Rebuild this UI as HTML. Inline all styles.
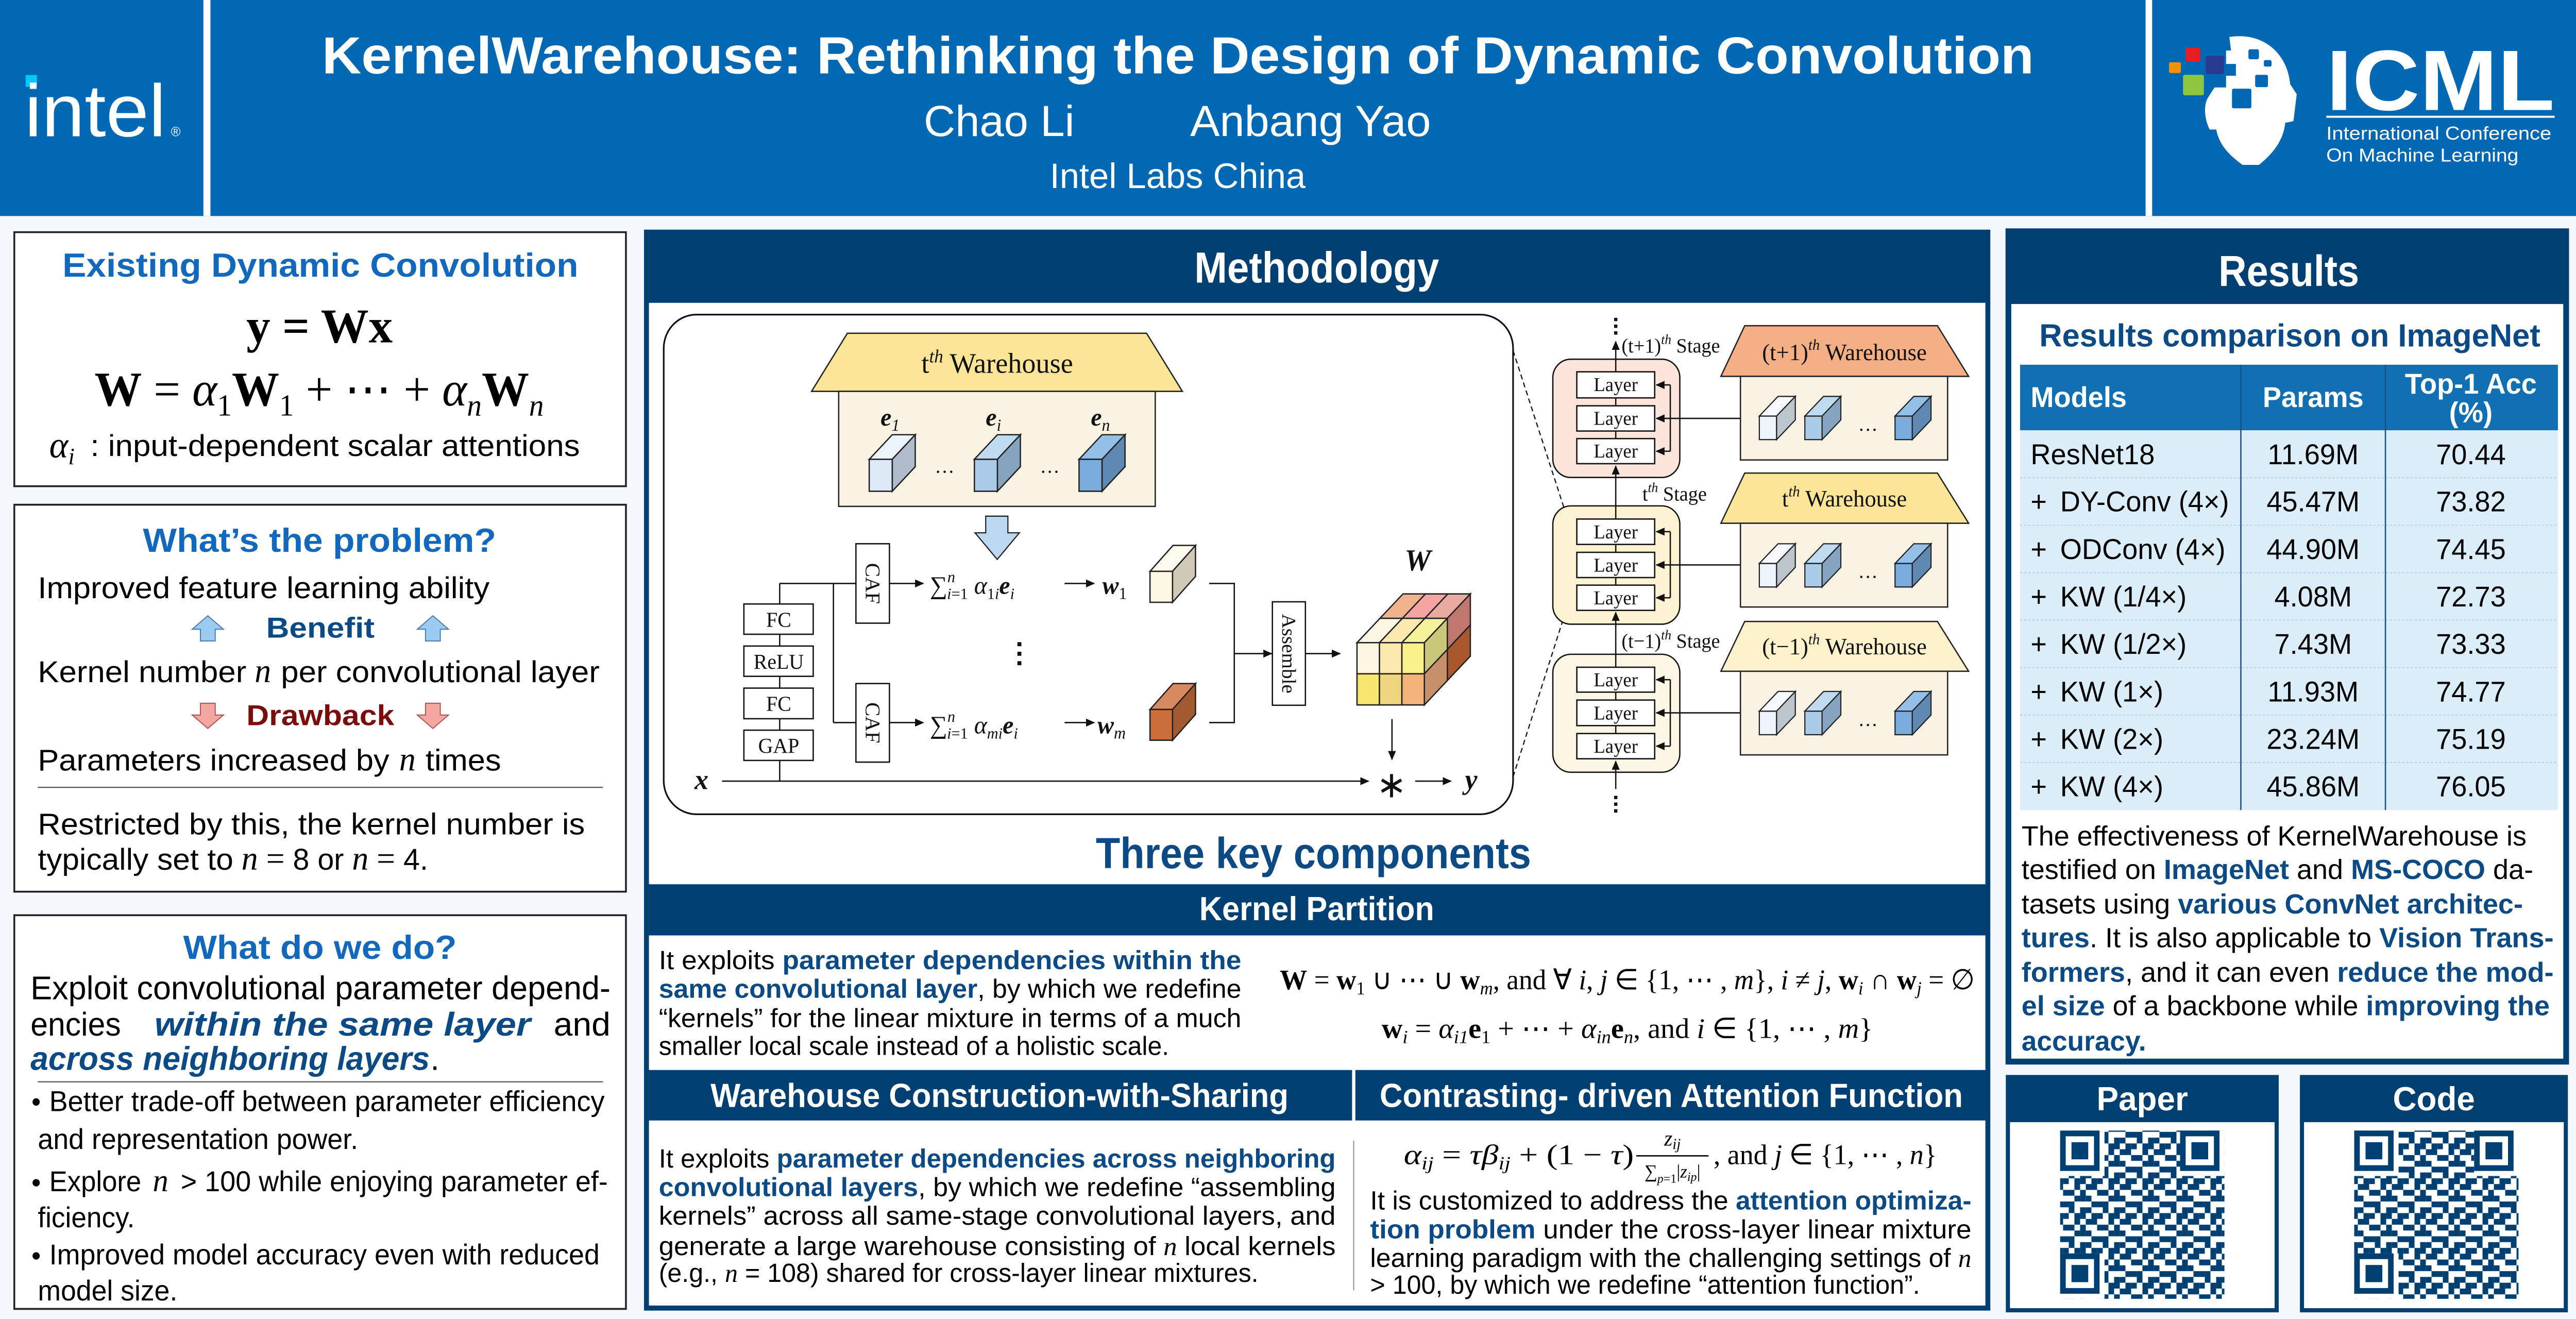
<!DOCTYPE html>
<html><head><meta charset="utf-8">
<style>
html,body{margin:0;padding:0;background:#f4f8fc;overflow:hidden;width:100%;height:100%;}
svg{display:block;width:100vw;height:100vh}
.s{font-family:"Liberation Sans",Arial,sans-serif}
.r{font-family:"Liberation Serif","Times New Roman",serif}
</style></head>
<body>
<svg viewBox="0 0 1568 784" preserveAspectRatio="none" xmlns="http://www.w3.org/2000/svg">
<defs>
<marker id="ah" markerWidth="6" markerHeight="6" refX="5" refY="3" orient="auto" markerUnits="userSpaceOnUse"><path d="M0,0.6 L5.5,3 L0,5.4 Z" fill="#111"/></marker>
<pattern id="qrp" patternUnits="userSpaceOnUse" width="20.7" height="20.7">
<rect x="0" y="0" width="3.45" height="3.45" fill="#003f72"/><rect x="6.9" y="0" width="6.9" height="3.45" fill="#003f72"/><rect x="3.45" y="3.45" width="3.45" height="6.9" fill="#003f72"/><rect x="13.8" y="3.45" width="6.9" height="3.45" fill="#003f72"/><rect x="0" y="6.9" width="3.45" height="3.45" fill="#003f72"/><rect x="6.9" y="6.9" width="3.45" height="3.45" fill="#003f72"/><rect x="10.35" y="10.35" width="6.9" height="3.45" fill="#003f72"/><rect x="17.25" y="10.35" width="3.45" height="6.9" fill="#003f72"/><rect x="3.45" y="13.8" width="3.45" height="6.9" fill="#003f72"/><rect x="6.9" y="13.8" width="3.45" height="3.45" fill="#003f72"/><rect x="13.8" y="17.25" width="3.45" height="3.45" fill="#003f72"/><rect x="0" y="17.25" width="3.45" height="3.45" fill="#003f72"/><rect x="10.35" y="17.25" width="3.45" height="3.45" fill="#003f72"/>
</pattern>
<g id="fp"><rect x="0" y="0" width="27" height="27" fill="#fff"/><rect x="0" y="0" width="24" height="24" fill="#003f72"/><rect x="3.4" y="3.4" width="17.2" height="17.2" fill="#fff"/><rect x="6.9" y="6.9" width="10.2" height="10.2" fill="#003f72"/></g>
<g id="sc1" stroke="#222" stroke-width="0.7"><rect x="0" y="0" width="10.5" height="14" fill="#eef4fb"/><polygon points="0,0 11.4,-11.7 21.9,-11.7 10.5,0" fill="#f6f9fd"/><polygon points="10.5,0 21.9,-11.7 21.9,2.3 10.5,14" fill="#bcc4cc"/></g>
<g id="sc2" stroke="#222" stroke-width="0.7"><rect x="0" y="0" width="10.5" height="14" fill="#a9cbe8"/><polygon points="0,0 11.4,-11.7 21.9,-11.7 10.5,0" fill="#c0daf0"/><polygon points="10.5,0 21.9,-11.7 21.9,2.3 10.5,14" fill="#86a4c0"/></g>
<g id="sc3" stroke="#222" stroke-width="0.7"><rect x="0" y="0" width="10.5" height="14" fill="#7aadde"/><polygon points="0,0 11.4,-11.7 21.9,-11.7 10.5,0" fill="#94bfe6"/><polygon points="10.5,0 21.9,-11.7 21.9,2.3 10.5,14" fill="#5f88b3"/></g>
</defs>

<rect x="0" y="0" width="1568" height="784" fill="#f4f8fc"/>

<!-- HEADER -->
<rect x="0" y="0" width="1568" height="128.4" fill="#0368b4"/>
<rect x="123.8" y="0" width="4.3" height="128.4" fill="#fff"/>
<rect x="1306" y="0" width="4" height="128.4" fill="#fff"/>
<rect x="15.6" y="44.6" width="6.9" height="7" fill="#00c7fd"/>
<text class="s" x="15" y="81" font-size="44" fill="#fff" textLength="86" lengthAdjust="spacingAndGlyphs">intel</text>
<text class="s" x="104" y="81" font-size="8" fill="#fff">®</text>
<text class="s" x="196" y="43.7" font-size="31" font-weight="bold" fill="#fff" textLength="1042" lengthAdjust="spacingAndGlyphs">KernelWarehouse: Rethinking the Design of Dynamic Convolution</text>
<text class="s" x="562.3" y="80.8" font-size="26" fill="#fff" textLength="91.7" lengthAdjust="spacingAndGlyphs">Chao Li</text>
<text class="s" x="724.4" y="80.8" font-size="26" fill="#fff" textLength="146.6" lengthAdjust="spacingAndGlyphs">Anbang Yao</text>
<text class="s" x="639" y="111.8" font-size="21" fill="#fff" textLength="155.7" lengthAdjust="spacingAndGlyphs">Intel Labs China</text>
<rect x="1320.3" y="37" width="7.2" height="6.4" fill="#f39200" rx="1"/>
<rect x="1330.4" y="28.3" width="8.9" height="8.4" fill="#e31e24" rx="1"/>
<rect x="1342.6" y="33.2" width="11.1" height="10.8" fill="#2a3a91" rx="1"/>
<rect x="1328.8" y="44.5" width="12.7" height="12.1" fill="#8cc63f" rx="1"/>
<path d="M1357,22 C1376,19 1392,30 1394,50 L1398,56 L1396,72 L1391,73 C1390,83 1384,91 1375,98 L1365,98 C1358,93 1351,87 1349,77 L1345,77 C1342,71 1341,63 1344,58 L1348,52 L1355,52 L1355,45 L1361,45 L1361,38 L1355,38 L1355,30 L1358,30 Z" fill="#fff"/>
<rect x="1368.6" y="29.3" width="6.4" height="5.9" fill="#0368b4" rx="1"/>
<rect x="1378" y="35.7" width="4.7" height="3.9" fill="#0368b4" rx="1"/>
<rect x="1372.7" y="44.5" width="7.8" height="7.3" fill="#0368b4" rx="1"/>
<rect x="1358.6" y="52.7" width="11.8" height="11.7" fill="#0368b4" rx="1"/>
<text class="s" x="1416" y="65.4" font-size="51" font-weight="bold" fill="#fff" textLength="139" lengthAdjust="spacingAndGlyphs">ICML</text>
<rect x="1416" y="68.8" width="139" height="1.2" fill="#fff"/>
<text class="s" x="1416" y="83" font-size="11" fill="#fff" textLength="137" lengthAdjust="spacingAndGlyphs">International Conference</text>
<text class="s" x="1416" y="96" font-size="11" fill="#fff" textLength="117" lengthAdjust="spacingAndGlyphs">On Machine Learning</text>

<!-- LEFT COLUMN -->
<rect x="8.7" y="138" width="372.3" height="151" fill="#fff" stroke="#222" stroke-width="1.1"/>
<text class="s" x="38" y="164.5" font-size="20" font-weight="bold" fill="#1268bd" textLength="314" lengthAdjust="spacingAndGlyphs">Existing Dynamic Convolution</text>
<text class="r" x="150" y="203.5" font-size="29" font-weight="bold" fill="#000" textLength="89" lengthAdjust="spacingAndGlyphs">y = Wx</text>
<text class="r" x="57.5" y="241" font-size="29" fill="#000" textLength="273.5" lengthAdjust="spacingAndGlyphs"><tspan font-weight="bold">W</tspan> = <tspan font-style="italic">α</tspan><tspan font-size="18" dy="6">1</tspan><tspan dy="-6" font-weight="bold">W</tspan><tspan font-size="18" dy="6">1</tspan><tspan dy="-6"> + ⋯ + </tspan><tspan font-style="italic">α</tspan><tspan font-size="18" dy="6" font-style="italic">n</tspan><tspan dy="-6" font-weight="bold">W</tspan><tspan font-size="18" dy="6" font-style="italic">n</tspan></text>
<text class="r" x="30" y="272" font-size="22" font-style="italic" fill="#000">α<tspan font-size="14" dy="4">i</tspan></text>
<text class="s" x="55" y="271" font-size="18" fill="#000" textLength="298" lengthAdjust="spacingAndGlyphs">: input-dependent scalar attentions</text>

<rect x="8.7" y="300" width="372.3" height="230" fill="#fff" stroke="#222" stroke-width="1.1"/>
<text class="s" x="87" y="328" font-size="20" font-weight="bold" fill="#1268bd" textLength="215" lengthAdjust="spacingAndGlyphs">What’s the problem?</text>
<text class="s" x="23" y="355.5" font-size="18" fill="#000" textLength="275" lengthAdjust="spacingAndGlyphs">Improved feature learning ability</text>
<polygon points="126.5,366 136,374 131,374 131,381 122,381 122,374 117,374" fill="#9ccbf2" stroke="#4a79a8" stroke-width="0.6"/>
<polygon points="263.5,366 273,374 268,374 268,381 259,381 259,374 254,374" fill="#9ccbf2" stroke="#4a79a8" stroke-width="0.6"/>
<text class="s" x="162" y="379" font-size="17" font-weight="bold" fill="#0b4a85" textLength="66" lengthAdjust="spacingAndGlyphs">Benefit</text>
<text class="s" x="23" y="405.5" font-size="18" fill="#000" textLength="127" lengthAdjust="spacingAndGlyphs">Kernel number</text>
<text class="r" x="155" y="405.5" font-size="20" font-style="italic" fill="#000">n</text>
<text class="s" x="171" y="405.5" font-size="18" fill="#000" textLength="194" lengthAdjust="spacingAndGlyphs">per convolutional layer</text>
<polygon points="126.5,433 136,425 131,425 131,418 122,418 122,425 117,425" fill="#f4a6a0" stroke="#b05050" stroke-width="0.6"/>
<polygon points="263.5,433 273,425 268,425 268,418 259,418 259,425 254,425" fill="#f4a6a0" stroke="#b05050" stroke-width="0.6"/>
<text class="s" x="150" y="431" font-size="17" font-weight="bold" fill="#7a0c0c" textLength="90" lengthAdjust="spacingAndGlyphs">Drawback</text>
<text class="s" x="23" y="458" font-size="18" fill="#000" textLength="214" lengthAdjust="spacingAndGlyphs">Parameters increased by</text>
<text class="r" x="243" y="458" font-size="20" font-style="italic" fill="#000">n</text>
<text class="s" x="259" y="458" font-size="18" fill="#000" textLength="46" lengthAdjust="spacingAndGlyphs">times</text>
<line x1="23" y1="468" x2="367" y2="468" stroke="#555" stroke-width="0.7"/>
<text class="s" x="23" y="496" font-size="18" fill="#000" textLength="333" lengthAdjust="spacingAndGlyphs">Restricted by this, the kernel number is</text>
<text class="s" x="23" y="517" font-size="18" fill="#000" textLength="119" lengthAdjust="spacingAndGlyphs">typically set to</text>
<text class="r" x="147" y="517" font-size="20" fill="#000"><tspan font-style="italic">n</tspan> = <tspan class="s" font-size="18">8 or </tspan><tspan font-style="italic">n</tspan> = <tspan class="s" font-size="18">4.</tspan></text>

<rect x="8.7" y="544" width="372.3" height="234" fill="#fff" stroke="#222" stroke-width="1.1"/>
<text class="s" x="111.5" y="570" font-size="20" font-weight="bold" fill="#1268bd" textLength="166.5" lengthAdjust="spacingAndGlyphs">What do we do?</text>
<text class="s" x="18.6" y="594" font-size="19.5" fill="#000" textLength="353" lengthAdjust="spacingAndGlyphs">Exploit convolutional parameter depend-</text>
<text class="s" x="18.6" y="615.5" font-size="19.5" fill="#000" textLength="55" lengthAdjust="spacingAndGlyphs">encies</text>
<text class="s" x="94" y="615.5" font-size="19.5" font-weight="bold" font-style="italic" fill="#0b4a85" textLength="229" lengthAdjust="spacingAndGlyphs">within  the  same  layer</text>
<text class="s" x="337" y="615.5" font-size="19.5" fill="#000" textLength="34.6" lengthAdjust="spacingAndGlyphs">and</text>
<text class="s" x="18.6" y="636" font-size="19.5" fill="#0b4a85" font-weight="bold" font-style="italic" textLength="243" lengthAdjust="spacingAndGlyphs">across neighboring layers</text>
<text class="s" x="262" y="636" font-size="19.5" fill="#000">.</text>
<line x1="23" y1="643" x2="367" y2="643" stroke="#555" stroke-width="0.7"/>
<g class="s" font-size="17" fill="#000">
<circle cx="22" cy="655" r="2.2"/>
<text x="30" y="660.5" textLength="338" lengthAdjust="spacingAndGlyphs">Better trade-off between parameter efficiency</text>
<text x="23" y="683" textLength="195" lengthAdjust="spacingAndGlyphs">and representation power.</text>
<circle cx="22" cy="703" r="2.2"/>
<text x="30" y="708" textLength="56" lengthAdjust="spacingAndGlyphs">Explore</text>
<text class="r" x="93" y="708" font-size="19" font-style="italic">n</text>
<text x="110" y="708" textLength="260" lengthAdjust="spacingAndGlyphs">&gt; 100 while enjoying parameter ef-</text>
<text x="23" y="729.5" textLength="59" lengthAdjust="spacingAndGlyphs">ficiency.</text>
<circle cx="22" cy="746.5" r="2.2"/>
<text x="30" y="751.5" textLength="335" lengthAdjust="spacingAndGlyphs">Improved model accuracy even with reduced</text>
<text x="23" y="773" textLength="85" lengthAdjust="spacingAndGlyphs">model size.</text>
</g>

<!-- MIDDLE COLUMN -->
<rect x="393.5" y="138" width="816.5" height="639.5" fill="#fff" stroke="#003f72" stroke-width="3"/>
<rect x="393.5" y="138" width="816.5" height="42" fill="#003f72"/>
<text class="s" x="727" y="168" font-size="26" font-weight="bold" fill="#fff" textLength="149" lengthAdjust="spacingAndGlyphs">Methodology</text>

<rect x="404" y="187" width="517" height="297" rx="20" fill="#fff" stroke="#111" stroke-width="1"/>
<polygon points="515.8,198.1 697.9,198.1 719.7,232.6 494,232.6" fill="#fde598" stroke="#222" stroke-width="0.8"/>
<rect x="510.5" y="232.6" width="192.7" height="68.4" fill="#faf3e3" stroke="#222" stroke-width="0.8"/>
<text class="r" x="607" y="221.5" font-size="17" text-anchor="middle" fill="#111">t<tspan font-size="11" font-style="italic" dy="-6">th</tspan><tspan dy="6">  Warehouse</tspan></text>
<g class="r" font-size="15" font-weight="bold" font-style="italic" fill="#111">
<text x="536" y="253">e<tspan font-size="10" font-weight="normal" dy="3">1</tspan></text>
<text x="600" y="253">e<tspan font-size="10" font-weight="normal" dy="3">i</tspan></text>
<text x="664" y="253">e<tspan font-size="10" font-weight="normal" dy="3">n</tspan></text>
</g>
<g stroke="#222" stroke-width="0.8">
<polygon points="529.1,273 543.1,258.4 557.1,258.4 543.1,273" fill="#eef4fb"/><polygon points="543.1,273 557.1,258.4 557.1,277.4 543.1,292" fill="#b0bccb"/><rect x="529.1" y="273" width="14" height="19" fill="#dde9f6"/>
<polygon points="593.1,273 607.1,258.4 621.1,258.4 607.1,273" fill="#c0daf0"/><polygon points="607.1,273 621.1,258.4 621.1,277.4 607.1,292" fill="#86a4c0"/><rect x="593.1" y="273" width="14" height="19" fill="#a9cbe8"/>
<polygon points="656.8,273 670.8,258.4 684.8,258.4 670.8,273" fill="#94bfe6"/><polygon points="670.8,273 684.8,258.4 684.8,277.4 670.8,292" fill="#5f88b3"/><rect x="656.8" y="273" width="14" height="19" fill="#7aadde"/>
</g>
<text class="r" x="569" y="281" font-size="12" fill="#111">…</text>
<text class="r" x="633" y="281" font-size="12" fill="#111">…</text>
<polygon points="600,306.8 613.5,306.8 613.5,316.7 620.5,316.7 607,332.5 593.5,316.7 600,316.7" fill="#bcd7f0" stroke="#222" stroke-width="0.7"/>

<g stroke="#111" stroke-width="0.8" fill="none">
<line x1="474.6" y1="464.3" x2="474.6" y2="346.8"/>
<line x1="474.6" y1="346.8" x2="521" y2="346.8"/>
<line x1="507.3" y1="346.8" x2="507.3" y2="429.5"/>
<line x1="507.3" y1="429.5" x2="521" y2="429.5"/>
<line x1="439.5" y1="464.3" x2="833" y2="464.3" marker-end="url(#ah)"/>
<line x1="541.4" y1="346.8" x2="562" y2="346.8" marker-end="url(#ah)"/>
<line x1="541.4" y1="429.5" x2="562" y2="429.5" marker-end="url(#ah)"/>
<line x1="648" y1="346.8" x2="666" y2="346.8" marker-end="url(#ah)"/>
<line x1="648" y1="429.5" x2="666" y2="429.5" marker-end="url(#ah)"/>
<polyline points="736,346.8 751.3,346.8 751.3,429.5 736,429.5"/>
<line x1="751.3" y1="388.5" x2="774" y2="388.5" marker-end="url(#ah)"/>
<line x1="794.6" y1="388.5" x2="815.7" y2="388.5" marker-end="url(#ah)"/>
<line x1="847.3" y1="427.4" x2="847.3" y2="451.4" marker-end="url(#ah)"/>
<line x1="861.4" y1="464.3" x2="883.2" y2="464.3" marker-end="url(#ah)"/>
</g>
<g stroke="#111" stroke-width="0.8" fill="#fff">
<rect x="452.8" y="359" width="42.2" height="18"/>
<rect x="452.8" y="384" width="42.2" height="18"/>
<rect x="452.8" y="409" width="42.2" height="18.2"/>
<rect x="452.8" y="434" width="42.2" height="18"/>
<rect x="521" y="323.2" width="20.4" height="47.2"/>
<rect x="521" y="406.3" width="20.4" height="46.7"/>
<rect x="774.5" y="357.7" width="20.1" height="61.5"/>
</g>
<g class="r" font-size="12.5" fill="#111" text-anchor="middle">
<text x="474" y="372.5">FC</text>
<text x="474" y="397.5">ReLU</text>
<text x="474" y="422.5">FC</text>
<text x="474" y="447.5">GAP</text>
<text transform="translate(527,346.8) rotate(90)" y="0">CAF</text>
<text transform="translate(527,429.6) rotate(90)" y="0">CAF</text>
<text transform="translate(780.5,388.5) rotate(90)" y="0" font-size="12">Assemble</text>
</g>
<text class="r" x="566" y="353" font-size="15" fill="#111">∑<tspan font-size="9.5" font-style="italic" dy="-7">n</tspan><tspan font-size="9.5" dx="-5" dy="10"><tspan font-style="italic">i</tspan>=1</tspan><tspan font-style="italic" dy="-3"> α</tspan><tspan font-size="9.5" dy="3">1<tspan font-style="italic">i</tspan></tspan><tspan font-weight="bold" font-style="italic" dy="-3">e</tspan><tspan font-size="9.5" font-style="italic" dy="3">i</tspan></text>
<text class="r" x="671" y="353" font-size="15" font-weight="bold" font-style="italic" fill="#111">w<tspan font-size="10" font-weight="normal" font-style="normal" dy="3">1</tspan></text>
<text class="r" x="566" y="436" font-size="15" fill="#111">∑<tspan font-size="9.5" font-style="italic" dy="-7">n</tspan><tspan font-size="9.5" dx="-5" dy="10"><tspan font-style="italic">i</tspan>=1</tspan><tspan font-style="italic" dy="-3"> α</tspan><tspan font-size="9.5" font-style="italic" dy="3">mi</tspan><tspan font-weight="bold" font-style="italic" dy="-3">e</tspan><tspan font-size="9.5" font-style="italic" dy="3">i</tspan></text>
<text class="r" x="668" y="436" font-size="15" font-weight="bold" font-style="italic" fill="#111">w<tspan font-size="10" font-weight="normal" dy="3">m</tspan></text>
<g fill="#111"><rect x="619.3" y="381.7" width="2.4" height="2.4"/><rect x="619.3" y="387.4" width="2.4" height="2.4"/><rect x="619.3" y="393" width="2.4" height="2.4"/></g>
<g stroke="#222" stroke-width="0.8">
<polygon points="700,339.6 714,324.2 727.7,324.2 713.7,339.6" fill="#fefbef"/><polygon points="713.7,339.6 727.7,324.2 727.7,342.6 713.7,358" fill="#d0c9b8"/><rect x="700" y="339.6" width="13.7" height="18.4" fill="#fdf7e4"/>
<polygon points="700,421.7 714,406.3 727.7,406.3 713.7,421.7" fill="#d9895f"/><polygon points="713.7,421.7 727.7,406.3 727.7,424.6 713.7,440" fill="#a35a30"/><rect x="700" y="421.7" width="13.7" height="18.3" fill="#cc6e3c"/>
</g>
<g stroke="#222" stroke-width="0.8">
<polygon points="826,382 839.67,382 853.67,367.5 840,367.5" fill="#fdf6e3"/>
<polygon points="839.67,382 853.33,382 867.33,367.5 853.67,367.5" fill="#fde9b0"/>
<polygon points="853.33,382 867,382 881,367.5 867.33,367.5" fill="#f6f29a"/>
<polygon points="840,367.5 853.67,367.5 867.67,353 854,353" fill="#f2b38c"/>
<polygon points="853.67,367.5 867.33,367.5 881.33,353 867.67,353" fill="#f5a3a3"/>
<polygon points="867.33,367.5 881,367.5 895,353 881.33,353" fill="#e9aaa0"/>
<polygon points="867,382 881,367.5 881,386 867,400.5" fill="#c9c87a"/>
<polygon points="867,400.5 881,386 881,404.5 867,419" fill="#c8906a"/>
<polygon points="881,367.5 895,353 895,371.5 881,386" fill="#c0786e"/>
<polygon points="881,386 895,371.5 895,390 881,404.5" fill="#a9582e"/>
<rect x="826" y="382" width="13.67" height="18.5" fill="#fdf6e3"/>
<rect x="839.67" y="382" width="13.67" height="18.5" fill="#fde9b0"/>
<rect x="853.33" y="382" width="13.67" height="18.5" fill="#f9f28a"/>
<rect x="826" y="400.5" width="13.67" height="18.5" fill="#f7e46c"/>
<rect x="839.67" y="400.5" width="13.67" height="18.5" fill="#eed47c"/>
<rect x="853.33" y="400.5" width="13.67" height="18.5" fill="#f3b37a"/>
</g>
<text class="r" x="863" y="339" font-size="18" font-weight="bold" font-style="italic" fill="#111" text-anchor="middle">W</text>
<text class="r" x="427" y="469" font-size="17" font-style="italic" font-weight="bold" fill="#111" text-anchor="middle">x</text>
<text class="r" x="847" y="474" font-size="22" fill="#111" text-anchor="middle">∗</text>
<text class="r" x="895.5" y="469" font-size="17" font-style="italic" font-weight="bold" fill="#111" text-anchor="middle">y</text>
<g stroke="#111" stroke-width="0.7" stroke-dasharray="3,2" fill="none">
<line x1="921" y1="208.4" x2="959.5" y2="324.5"/>
<line x1="921" y1="461.7" x2="959.5" y2="343.5"/>
</g>

<rect x="945.2" y="213.5" width="77.3" height="70.3" rx="11" fill="#fbe5da" stroke="#111" stroke-width="0.8"/>
<rect x="945.2" y="300.7" width="77.3" height="70.3" rx="11" fill="#fdf2d2" stroke="#111" stroke-width="0.8"/>
<rect x="945.2" y="388.9" width="77.3" height="70.1" rx="11" fill="#fdf6e4" stroke="#111" stroke-width="0.8"/>
<g stroke="#111" stroke-width="0.8" fill="none">
<line x1="983.5" y1="221" x2="983.5" y2="203" marker-end="url(#ah)"/>
<line x1="983.5" y1="308.5" x2="983.5" y2="277" marker-end="url(#ah)"/>
<line x1="983.5" y1="396.6" x2="983.5" y2="364" marker-end="url(#ah)"/>
<line x1="983.5" y1="469" x2="983.5" y2="452.5" marker-end="url(#ah)"/>
<line x1="983.5" y1="236" x2="983.5" y2="261"/><line x1="983.5" y1="323" x2="983.5" y2="348"/><line x1="983.5" y1="411" x2="983.5" y2="436"/>
<polyline points="1016.7,228.8 1016.7,268.2"/><polyline points="1016.7,316 1016.7,355.3"/><polyline points="1016.7,404 1016.7,443.5"/>
<line x1="1016.7" y1="228.8" x2="1008.2" y2="228.8" marker-end="url(#ah)"/>
<line x1="1016.7" y1="268.2" x2="1008.2" y2="268.2" marker-end="url(#ah)"/>
<line x1="1059.4" y1="248.7" x2="1008.2" y2="248.7" marker-end="url(#ah)"/>
<line x1="1016.7" y1="316" x2="1008.2" y2="316" marker-end="url(#ah)"/>
<line x1="1016.7" y1="355.3" x2="1008.2" y2="355.3" marker-end="url(#ah)"/>
<line x1="1059.4" y1="335.8" x2="1008.2" y2="335.8" marker-end="url(#ah)"/>
<line x1="1016.7" y1="404" x2="1008.2" y2="404" marker-end="url(#ah)"/>
<line x1="1016.7" y1="443.5" x2="1008.2" y2="443.5" marker-end="url(#ah)"/>
<line x1="1059.4" y1="423.7" x2="1008.2" y2="423.7" marker-end="url(#ah)"/>
</g>
<g fill="#111"><rect x="982.5" y="188.9" width="2" height="2"/><rect x="982.5" y="192.9" width="2" height="2"/><rect x="982.5" y="196.9" width="2" height="2"/>
<rect x="982.5" y="473" width="2" height="2"/><rect x="982.5" y="477" width="2" height="2"/><rect x="982.5" y="481" width="2" height="2"/></g>
<g stroke="#111" stroke-width="0.8" fill="#fff">
<rect x="959.8" y="221" width="47.4" height="15.5"/><rect x="959.8" y="241.2" width="47.4" height="15"/><rect x="959.8" y="260.7" width="47.4" height="14.9"/>
<rect x="959.8" y="308.5" width="47.4" height="15.1"/><rect x="959.8" y="328.3" width="47.4" height="15"/><rect x="959.8" y="347.8" width="47.4" height="15"/>
<rect x="959.8" y="396.6" width="47.4" height="14.8"/><rect x="959.8" y="416.1" width="47.4" height="15.2"/><rect x="959.8" y="436" width="47.4" height="15"/>
</g>
<g class="r" font-size="11.5" fill="#111" text-anchor="middle">
<text x="983.5" y="232.5">Layer</text><text x="983.5" y="252.5">Layer</text><text x="983.5" y="272">Layer</text>
<text x="983.5" y="320">Layer</text><text x="983.5" y="339.8">Layer</text><text x="983.5" y="359.3">Layer</text>
<text x="983.5" y="408">Layer</text><text x="983.5" y="427.7">Layer</text><text x="983.5" y="447.5">Layer</text>
</g>
<g class="r" font-size="12" fill="#111">
<text x="987" y="209.5">(t+1)<tspan font-size="8" font-style="italic" dy="-5">th</tspan><tspan dy="5"> Stage</tspan></text>
<text x="999.7" y="297.5">t<tspan font-size="8" font-style="italic" dy="-5">th</tspan><tspan dy="5">  Stage</tspan></text>
<text x="987" y="385">(t−1)<tspan font-size="8" font-style="italic" dy="-5">th</tspan><tspan dy="5"> Stage</tspan></text>
</g>
<g stroke="#222" stroke-width="0.8">
<polygon points="1062,193.6 1179.3,193.6 1198.3,223.7 1047.5,223.7" fill="#f4b084"/>
<rect x="1059.4" y="223.7" width="126.1" height="49.7" fill="#faf3e3"/>
<polygon points="1062,281.2 1179.3,281.2 1198.3,311 1047.5,311" fill="#fde598"/>
<rect x="1059.4" y="311" width="126.1" height="49.8" fill="#faf3e3"/>
<polygon points="1062,369.4 1179.3,369.4 1198.3,399 1047.5,399" fill="#fef2cc"/>
<rect x="1059.4" y="399" width="126.1" height="49.7" fill="#faf3e3"/>
</g>
<g class="r" font-size="14" fill="#111" text-anchor="middle">
<text x="1122.7" y="214">(t+1)<tspan font-size="9" font-style="italic" dy="-6">th</tspan><tspan dy="6"> Warehouse</tspan></text>
<text x="1122.7" y="301">t<tspan font-size="9" font-style="italic" dy="-6">th</tspan><tspan dy="6"> Warehouse</tspan></text>
<text x="1122.7" y="389">(t−1)<tspan font-size="9" font-style="italic" dy="-6">th</tspan><tspan dy="6"> Warehouse</tspan></text>
</g>
<use href="#sc1" x="1070.9" y="247.3"/><use href="#sc2" x="1098.6" y="247.3"/><use href="#sc3" x="1153.5" y="247.3"/>
<use href="#sc1" x="1070.9" y="334.9"/><use href="#sc2" x="1098.6" y="334.9"/><use href="#sc3" x="1153.5" y="334.9"/>
<use href="#sc1" x="1070.9" y="422.7"/><use href="#sc2" x="1098.6" y="422.7"/><use href="#sc3" x="1153.5" y="422.7"/>
<g class="r" font-size="12" fill="#111"><text x="1131" y="256">…</text><text x="1131" y="343.5">…</text><text x="1131" y="431.5">…</text></g>

<text class="s" x="667" y="516" font-size="26" font-weight="bold" fill="#0b4a85" textLength="265" lengthAdjust="spacingAndGlyphs">Three key components</text>

<rect x="393.5" y="525.6" width="816.5" height="30.4" fill="#003f72"/>
<text class="s" x="730" y="547" font-size="20" font-weight="bold" fill="#fff" textLength="143" lengthAdjust="spacingAndGlyphs">Kernel Partition</text>
<g class="s" font-size="15.5" fill="#000">
<text x="401" y="576" textLength="354.6" lengthAdjust="spacingAndGlyphs">It exploits <tspan font-weight="bold" fill="#0b4a85">parameter dependencies within the</tspan></text>
<text x="401" y="593" textLength="354.6" lengthAdjust="spacingAndGlyphs"><tspan font-weight="bold" fill="#0b4a85">same convolutional layer</tspan>, by which we redefine</text>
<text x="401" y="610.5" textLength="354.6" lengthAdjust="spacingAndGlyphs">“kernels” for the linear mixture in terms of a much</text>
<text x="401" y="627" textLength="310.6" lengthAdjust="spacingAndGlyphs">smaller local scale instead of a holistic scale.</text>
</g>
<text class="r" x="779" y="588" font-size="17" fill="#000" textLength="423" lengthAdjust="spacingAndGlyphs"><tspan font-weight="bold">W</tspan> = <tspan font-weight="bold">w</tspan><tspan font-size="11" dy="3">1</tspan><tspan dy="-3"> ∪ ⋯ ∪ </tspan><tspan font-weight="bold">w</tspan><tspan font-size="11" font-style="italic" dy="3">m</tspan><tspan dy="-3">,  and ∀ </tspan><tspan font-style="italic">i</tspan>, <tspan font-style="italic">j</tspan> ∈ {1, ⋯ , <tspan font-style="italic">m</tspan>}, <tspan font-style="italic">i</tspan> ≠ <tspan font-style="italic">j</tspan>, <tspan font-weight="bold">w</tspan><tspan font-size="11" font-style="italic" dy="3">i</tspan><tspan dy="-3"> ∩ </tspan><tspan font-weight="bold">w</tspan><tspan font-size="11" font-style="italic" dy="3">j</tspan><tspan dy="-3"> = ∅</tspan></text>
<text class="r" x="841" y="617" font-size="17" fill="#000" textLength="299" lengthAdjust="spacingAndGlyphs"><tspan font-weight="bold">w</tspan><tspan font-size="11" font-style="italic" dy="3">i</tspan><tspan dy="-3"> = </tspan><tspan font-style="italic">α</tspan><tspan font-size="11" font-style="italic" dy="3">i1</tspan><tspan font-weight="bold" dy="-3">e</tspan><tspan font-size="11" dy="3">1</tspan><tspan dy="-3"> + ⋯ + </tspan><tspan font-style="italic">α</tspan><tspan font-size="11" font-style="italic" dy="3">in</tspan><tspan font-weight="bold" dy="-3">e</tspan><tspan font-size="11" font-style="italic" dy="3">n</tspan><tspan dy="-3">,  and </tspan><tspan font-style="italic">i</tspan> ∈ {1, ⋯ , <tspan font-style="italic">m</tspan>}</text>

<rect x="393.5" y="636" width="429.5" height="30" fill="#003f72"/>
<rect x="825" y="636" width="385" height="30" fill="#003f72"/>
<text class="s" x="432.5" y="658" font-size="20" font-weight="bold" fill="#fff" textLength="351.8" lengthAdjust="spacingAndGlyphs">Warehouse Construction-with-Sharing</text>
<text class="s" x="839.8" y="658" font-size="20" font-weight="bold" fill="#fff" textLength="355" lengthAdjust="spacingAndGlyphs">Contrasting- driven Attention Function</text>
<line x1="824" y1="678" x2="824" y2="767" stroke="#888" stroke-width="0.6"/>
<g class="s" font-size="15.5" fill="#000">
<text x="401" y="694" textLength="412" lengthAdjust="spacingAndGlyphs">It exploits <tspan font-weight="bold" fill="#0b4a85">parameter dependencies across neighboring</tspan></text>
<text x="401" y="711" textLength="412" lengthAdjust="spacingAndGlyphs"><tspan font-weight="bold" fill="#0b4a85">convolutional layers</tspan>, by which we redefine “assembling</text>
<text x="401" y="728" textLength="412" lengthAdjust="spacingAndGlyphs">kernels” across all same-stage convolutional layers, and</text>
<text x="401" y="746" textLength="412" lengthAdjust="spacingAndGlyphs">generate a large warehouse consisting of <tspan class="r" font-style="italic">n</tspan> local kernels</text>
<text x="401" y="762" textLength="365" lengthAdjust="spacingAndGlyphs">(e.g., <tspan class="r" font-style="italic">n</tspan> = 108) shared for cross-layer linear mixtures.</text>
</g>
<text class="r" x="854.5" y="692" font-size="17" fill="#000" textLength="140" lengthAdjust="spacingAndGlyphs"><tspan font-style="italic">α</tspan><tspan font-size="11" font-style="italic" dy="3">ij</tspan><tspan dy="-3"> = </tspan><tspan font-style="italic">τβ</tspan><tspan font-size="11" font-style="italic" dy="3">ij</tspan><tspan dy="-3"> + (1 − </tspan><tspan font-style="italic">τ</tspan>)</text>
<text class="r" x="1018" y="681" font-size="13" font-style="italic" fill="#000" text-anchor="middle">z<tspan font-size="9" dy="2">ij</tspan></text>
<line x1="996" y1="687" x2="1040" y2="687" stroke="#000" stroke-width="0.8"/>
<text class="r" x="1018" y="700" font-size="11" fill="#000" text-anchor="middle">∑<tspan font-size="7.5" dy="3"><tspan font-style="italic">p</tspan>=1</tspan><tspan dy="-3">|</tspan><tspan font-style="italic">z</tspan><tspan font-size="7.5" font-style="italic" dy="2">ip</tspan><tspan dy="-2">|</tspan></text>
<text class="r" x="1043" y="692" font-size="17" fill="#000" textLength="136" lengthAdjust="spacingAndGlyphs">, and <tspan font-style="italic">j</tspan> ∈ {1, ⋯ , <tspan font-style="italic">n</tspan>}</text>
<g class="s" font-size="15.5" fill="#000">
<text x="834" y="719" textLength="366" lengthAdjust="spacingAndGlyphs">It is customized to address the <tspan font-weight="bold" fill="#0b4a85">attention optimiza-</tspan></text>
<text x="834" y="736" textLength="366" lengthAdjust="spacingAndGlyphs"><tspan font-weight="bold" fill="#0b4a85">tion problem</tspan> under the cross-layer linear mixture</text>
<text x="834" y="753" textLength="366" lengthAdjust="spacingAndGlyphs">learning paradigm with the challenging settings of <tspan class="r" font-style="italic">n</tspan></text>
<text x="834" y="769" textLength="334.7" lengthAdjust="spacingAndGlyphs">&gt; 100, by which we redefine “attention function”.</text>
</g>

<!-- RIGHT COLUMN -->
<rect x="1222.5" y="137.5" width="339.5" height="493.5" fill="#fff" stroke="#003f72" stroke-width="3.5"/>
<rect x="1221" y="136.7" width="342" height="44" fill="#003f72"/>
<text class="s" x="1350.4" y="170" font-size="26" font-weight="bold" fill="#fff" textLength="85.6" lengthAdjust="spacingAndGlyphs">Results</text>
<text class="s" x="1241.3" y="206" font-size="19" font-weight="bold" fill="#0b4a85" textLength="305" lengthAdjust="spacingAndGlyphs">Results comparison on ImageNet</text>
<rect x="1229.6" y="216.8" width="327.4" height="39" fill="#1170b3"/>
<rect x="1229.6" y="255.8" width="327.4" height="225.7" fill="#dbedf9"/>
<g stroke="#b5d2ea" stroke-width="0.6" stroke-dasharray="1.5,1">
<line x1="1229.6" y1="284" x2="1557" y2="284"/><line x1="1229.6" y1="312.2" x2="1557" y2="312.2"/><line x1="1229.6" y1="340.4" x2="1557" y2="340.4"/><line x1="1229.6" y1="368.6" x2="1557" y2="368.6"/><line x1="1229.6" y1="396.8" x2="1557" y2="396.8"/><line x1="1229.6" y1="425" x2="1557" y2="425"/><line x1="1229.6" y1="453.2" x2="1557" y2="453.2"/>
</g>
<line x1="1364" y1="216.8" x2="1364" y2="481.5" stroke="#1d4f86" stroke-width="0.8"/>
<line x1="1452" y1="216.8" x2="1452" y2="481.5" stroke="#1d4f86" stroke-width="0.8"/>
<g class="s" font-size="17" font-weight="bold" fill="#fff">
<text x="1236" y="242">Models</text>
<text x="1408" y="242" text-anchor="middle">Params</text>
<text x="1504" y="234" text-anchor="middle">Top-1 Acc</text>
<text x="1504" y="251" text-anchor="middle">(%)</text>
</g>
<g class="s" font-size="17" fill="#000">
<text x="1236" y="276">ResNet18</text><text x="1408" y="276" text-anchor="middle">11.69M</text><text x="1504" y="276" text-anchor="middle">70.44</text>
<text x="1236" y="304">+</text><text x="1254" y="304">DY-Conv (4×)</text><text x="1408" y="304" text-anchor="middle">45.47M</text><text x="1504" y="304" text-anchor="middle">73.82</text>
<text x="1236" y="332.3">+</text><text x="1254" y="332.3">ODConv (4×)</text><text x="1408" y="332.3" text-anchor="middle">44.90M</text><text x="1504" y="332.3" text-anchor="middle">74.45</text>
<text x="1236" y="360.5">+</text><text x="1254" y="360.5">KW (1/4×)</text><text x="1408" y="360.5" text-anchor="middle">4.08M</text><text x="1504" y="360.5" text-anchor="middle">72.73</text>
<text x="1236" y="388.7">+</text><text x="1254" y="388.7">KW (1/2×)</text><text x="1408" y="388.7" text-anchor="middle">7.43M</text><text x="1504" y="388.7" text-anchor="middle">73.33</text>
<text x="1236" y="416.9">+</text><text x="1254" y="416.9">KW (1×)</text><text x="1408" y="416.9" text-anchor="middle">11.93M</text><text x="1504" y="416.9" text-anchor="middle">74.77</text>
<text x="1236" y="445.1">+</text><text x="1254" y="445.1">KW (2×)</text><text x="1408" y="445.1" text-anchor="middle">23.24M</text><text x="1504" y="445.1" text-anchor="middle">75.19</text>
<text x="1236" y="473.3">+</text><text x="1254" y="473.3">KW (4×)</text><text x="1408" y="473.3" text-anchor="middle">45.86M</text><text x="1504" y="473.3" text-anchor="middle">76.05</text>
</g>
<g class="s" font-size="16.5" fill="#000">
<text x="1230.5" y="502.5" textLength="307.4" lengthAdjust="spacingAndGlyphs">The effectiveness of KernelWarehouse is</text>
<text x="1230.5" y="522.5" textLength="311.5" lengthAdjust="spacingAndGlyphs">testified on <tspan font-weight="bold" fill="#0b4a85">ImageNet</tspan> and <tspan font-weight="bold" fill="#0b4a85">MS-COCO</tspan> da-</text>
<text x="1230.5" y="543" textLength="305.2" lengthAdjust="spacingAndGlyphs">tasets using <tspan font-weight="bold" fill="#0b4a85">various ConvNet architec-</tspan></text>
<text x="1230.5" y="563" textLength="323.9" lengthAdjust="spacingAndGlyphs"><tspan font-weight="bold" fill="#0b4a85">tures</tspan>. It is also applicable to <tspan font-weight="bold" fill="#0b4a85">Vision Trans-</tspan></text>
<text x="1230.5" y="583.5" textLength="323.9" lengthAdjust="spacingAndGlyphs"><tspan font-weight="bold" fill="#0b4a85">formers</tspan>, and it can even <tspan font-weight="bold" fill="#0b4a85">reduce the mod-</tspan></text>
<text x="1230.5" y="603.5" textLength="321.5" lengthAdjust="spacingAndGlyphs"><tspan font-weight="bold" fill="#0b4a85">el size</tspan> of a backbone while <tspan font-weight="bold" fill="#0b4a85">improving the</tspan></text>
<text x="1230.5" y="624.5" textLength="75.8" lengthAdjust="spacingAndGlyphs" font-weight="bold" fill="#0b4a85">accuracy.</text>
</g>

<rect x="1222.2" y="640.2" width="163.6" height="138.6" fill="#fff" stroke="#003f72" stroke-width="2.5"/>
<rect x="1221" y="639" width="166" height="28" fill="#003f72"/>
<text class="s" x="1304" y="660" font-size="20" font-weight="bold" fill="#fff" text-anchor="middle">Paper</text>
<rect x="1401.2" y="640.2" width="160.6" height="138.6" fill="#fff" stroke="#003f72" stroke-width="2.5"/>
<rect x="1400" y="639" width="163" height="28" fill="#003f72"/>
<text class="s" x="1481.5" y="660" font-size="20" font-weight="bold" fill="#fff" text-anchor="middle">Code</text>
<rect x="1254" y="672" width="100" height="100" fill="url(#qrp)"/>
<use href="#fp" x="1254" y="672"/><use href="#fp" x="1327" y="672"/><use href="#fp" x="1254" y="745"/>
<rect x="1433" y="672" width="100" height="100" fill="url(#qrp)"/>
<use href="#fp" x="1433" y="672"/><use href="#fp" x="1506" y="672"/><use href="#fp" x="1433" y="745"/>
</svg>
</body></html>
